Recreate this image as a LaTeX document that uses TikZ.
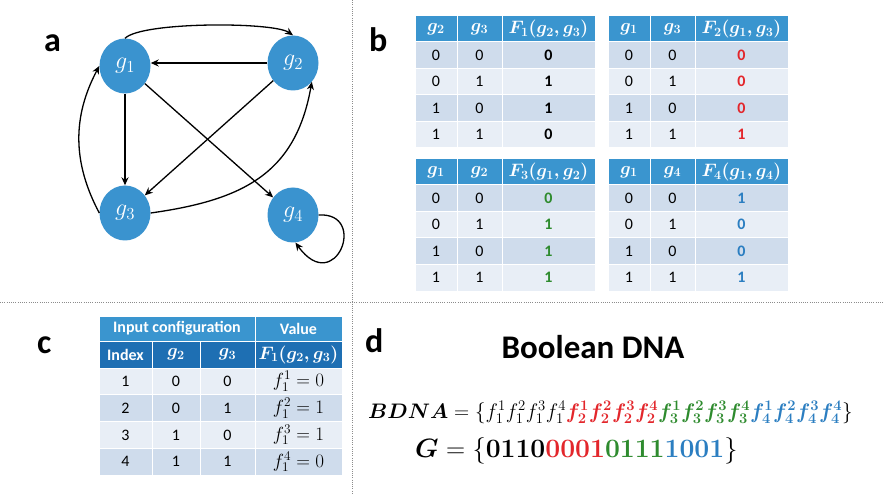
\documentclass[tikz,border=0pt]{standalone}
\usepackage{fix-cm}
\usepackage[no-math]{fontspec}
\setmainfont{Carlito}
\usepackage{bm}
\usetikzlibrary{arrows.meta,shapes.geometric}

\definecolor{nodeblue}{HTML}{3A93CF}
\definecolor{hdr}{HTML}{3A95CF}
\definecolor{hdrdark}{HTML}{1E6FB3}
\definecolor{rowdark}{HTML}{CFDCEC}
\definecolor{rowlight}{HTML}{E8EEF6}
\definecolor{myred}{HTML}{E3262B}
\definecolor{mygreen}{HTML}{2E8B2E}
\definecolor{myblue}{HTML}{2B7EC1}

\tikzset{
  arr/.style={line width=1.3pt, -{Stealth[length=8pt,width=7pt]}},
  gnode/.style={ellipse, fill=nodeblue, minimum width=51pt, minimum height=55pt, inner sep=0pt, text=white, font=\fontsize{24}{28}\selectfont},
  hcell/.style={fill=hdr, draw=white, line width=1pt},
  dcell/.style={fill=hdrdark, draw=white, line width=1pt},
  lbl/.style={anchor=base west, inner sep=0pt, font=\fontsize{34}{40}\selectfont\bfseries},
  htxt/.style={text=white, inner sep=0pt, font=\fontsize{18}{21}\selectfont\boldmath},
  htxtb/.style={text=white, inner sep=0pt, font=\fontsize{16}{19}\selectfont\bfseries},
  ctxt/.style={inner sep=0pt, font=\fontsize{16}{19}\selectfont},
  mtxt/.style={inner sep=0pt, font=\fontsize{19}{22}\selectfont},
  divider/.style={draw=black!45, line width=0.9pt, dash pattern=on 0.9pt off 1.3pt}
}

\newcommand\truthtab[8]{%
\begin{scope}[shift={(#2,#3)}]
 \path[hcell] (0,0) rectangle (42,-26) (42,0) rectangle (87,-26) (87,0) rectangle (180,-26);
 \node[htxt] (#1hA) at (21,-13) {$#4$};
 \node[htxt] (#1hB) at (64.5,-13) {$#5$};
 \node[htxt] (#1hC) at (133.5,-13) {$#6$};
 \foreach \v [count=\i] in {#8} {
   \pgfmathtruncatemacro\ra{int((\i-1)/2)}
   \pgfmathtruncatemacro\rb{mod(\i-1,2)}
   \pgfmathsetmacro\yt{-26-(\i-1)*26.5}
   \ifodd\i\relax\def\rc{rowdark}\else\def\rc{rowlight}\fi
   \path[fill=\rc, draw=white, line width=1pt] (0,\yt) rectangle (42,\yt-26.5) (42,\yt) rectangle (87,\yt-26.5) (87,\yt) rectangle (180,\yt-26.5);
   \node[ctxt] (#1a\i) at (21,\yt-13.25) {\ra};
   \node[ctxt] (#1b\i) at (64.5,\yt-13.25) {\rb};
   \node[ctxt, text=#7, font=\fontsize{16}{19}\selectfont\bfseries] (#1c\i) at (133.5,\yt-13.25) {\v};
 }
\end{scope}}

\begin{document}
\begin{tikzpicture}[x=1pt,y=1pt]
\useasboundingbox (0,0) rectangle (883,-494);
\fill[white] (0,0) rectangle (883,-494);

% dividers
\draw[divider] (352,0) -- (352,-494);
\draw[divider] (0,-302) -- (883,-302);

% panel labels
\node[lbl] (la) at (44,-52) {a};
\node[lbl] (lb) at (369,-52) {b};
\node[lbl] (lc) at (37,-353) {c};
\node[lbl] (ld) at (365,-352) {d};

% ---- panel a: graph
\node[gnode] (g1) at (125,-66) {$g_1$};
\node[gnode] (g2) at (293,-63) {$g_2$};
\node[gnode] (g3) at (125,-213) {$g_3$};
\node[gnode] (g4) at (293,-215) {$g_4$};

\draw[arr] (g1.north) to[out=45,in=145,looseness=0.36] (g2.north);
\draw[arr] (g2.west) -- (g2.west -| g1.east);
\draw[arr] (g1) -- (g3);
\draw[arr] (g2) -- (g3);
\draw[arr] (g1) -- (g4);
\draw[arr] (g3.east) to[out=8,in=-100,looseness=1.15] (g2.-45);
\draw[arr] (g3.west) to[out=118,in=242] (g1.west);
\draw[arr] (g4.east) .. controls +(50,3) and +(40,-55) .. (g4.-85);

% ---- panel b: truth tables
\truthtab{tA}{415}{-16}{g_2}{g_3}{F_1(g_2,g_3)}{black}{0,1,1,0}
\truthtab{tB}{608}{-16}{g_1}{g_3}{F_2(g_1,g_3)}{myred}{0,0,0,1}
\truthtab{tC}{415}{-159}{g_1}{g_2}{F_3(g_1,g_2)}{mygreen}{0,1,1,1}
\truthtab{tD}{608}{-159}{g_1}{g_4}{F_4(g_1,g_4)}{myblue}{1,0,0,1}

% ---- panel c
\path[hcell] (99,-316) rectangle (255,-341) (255,-316) rectangle (342,-341);
\node[htxtb] (cin) at (177,-328.5) {Input configuration};
\node[htxtb] (cval) at (298.5,-328.5) {Value};
\path[dcell] (99,-341) rectangle (152,-368) (152,-341) rectangle (200,-368)
  (200,-341) rectangle (255,-368) (255,-341) rectangle (342,-368);
\node[htxtb] (cidx) at (125.5,-354.5) {Index};
\node[htxt] (cg2) at (176,-354.5) {$g_2$};
\node[htxt] (cg3) at (227.5,-354.5) {$g_3$};
\node[htxt] (cF) at (298.5,-354.5) {$F_1(g_2,g_3)$};
\foreach \a/\b/\c/\v [count=\i] in {1/0/0/0, 2/0/1/1, 3/1/0/1, 4/1/1/0} {
  \pgfmathsetmacro\yt{-368-(\i-1)*26.75}
  \ifodd\i\relax\def\rc{rowlight}\else\def\rc{rowdark}\fi
  \path[fill=\rc, draw=white, line width=1pt] (99,\yt) rectangle (152,\yt-26.75)
    (152,\yt) rectangle (200,\yt-26.75) (200,\yt) rectangle (255,\yt-26.75)
    (255,\yt) rectangle (342,\yt-26.75);
  \node[ctxt] (ci\i) at (125.5,\yt-13.4) {\a};
  \node[ctxt] (cx\i) at (176,\yt-13.4) {\b};
  \node[ctxt] (cy\i) at (227.5,\yt-13.4) {\c};
  \node[mtxt] (cf\i) at (298.5,\yt-13.4) {$f_1^{\a} = \v$};
}

% ---- panel d
\node[anchor=base, inner sep=0pt, font=\fontsize{33}{40}\selectfont\bfseries] (title) at (593,-358) {Boolean DNA};
\node[anchor=base west, inner sep=0pt, font=\fontsize{21}{25}\selectfont] (bdna) at (368,-418)
 {$\bm{BDNA} = \{f_1^1f_1^2f_1^3f_1^4{\color{myred}\bm{f_2^1f_2^2f_2^3f_2^4}}{\color{mygreen}\bm{f_3^1f_3^2f_3^3f_3^4}}{\color{myblue}\bm{f_4^1f_4^2f_4^3f_4^4}}\}$};
\node[anchor=base west, inner sep=0pt, font=\fontsize{26.5}{30}\selectfont] (gstr) at (415,-457)
 {$\bm{G} = \{\mathbf{0110}{\color{myred}\mathbf{0001}}{\color{mygreen}\mathbf{0111}}{\color{myblue}\mathbf{1001}}\}$};
\end{tikzpicture}
\end{document}
